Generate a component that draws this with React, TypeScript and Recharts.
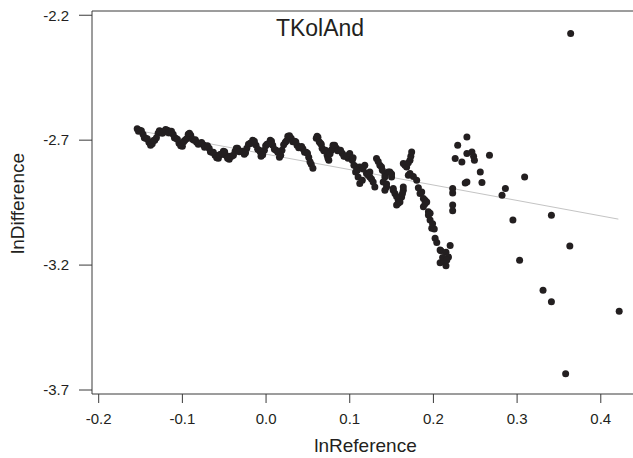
import React from "react";
import {
  ScatterChart,
  Scatter,
  XAxis,
  YAxis,
  ReferenceLine,
} from "recharts";

// dense run of points on the left (read left to right)
const chainX = [
  -0.154, -0.151, -0.147, -0.144, -0.14, -0.136, -0.133, -0.129, -0.126, -0.122,
  -0.118, -0.115, -0.111, -0.108, -0.104, -0.1, -0.097, -0.093, -0.09, -0.086,
  -0.083, -0.079, -0.075, -0.072, -0.068, -0.065, -0.061, -0.057, -0.054, -0.051,
  -0.048, -0.044, -0.041, -0.037, -0.034, -0.03, -0.026, -0.023, -0.019, -0.016,
  -0.012, -0.008, -0.006, -0.002, 0.001, 0.005, 0.008, 0.012, 0.016, 0.019,
  0.023, 0.026, 0.03, 0.034, 0.037, 0.041, 0.044, 0.048, 0.051, 0.054,
  0.056, 0.06, 0.062, 0.065, 0.067, 0.071, 0.073, 0.075, 0.078, 0.08,
  0.084, 0.087, 0.091, 0.095, 0.098,
];
const chainY = [
  -2.654, -2.66, -2.676, -2.692, -2.708, -2.714, -2.7, -2.672, -2.664, -2.666,
  -2.66, -2.664, -2.676, -2.692, -2.712, -2.724, -2.7, -2.676, -2.68, -2.7,
  -2.708, -2.712, -2.718, -2.724, -2.732, -2.748, -2.76, -2.772, -2.756, -2.744,
  -2.76, -2.776, -2.764, -2.744, -2.732, -2.744, -2.756, -2.732, -2.712, -2.7,
  -2.72, -2.74, -2.764, -2.74, -2.716, -2.7, -2.72, -2.74, -2.768, -2.74,
  -2.708, -2.684, -2.692, -2.704, -2.72, -2.728, -2.734, -2.748, -2.768, -2.796,
  -2.812, -2.692, -2.688, -2.712, -2.732, -2.74, -2.76, -2.78, -2.74, -2.72,
  -2.732, -2.74, -2.752, -2.764, -2.772,
];

// points packed in between the run above (it reads as one thick band)
const chain2X = [
  -0.1525, -0.149, -0.1455, -0.142, -0.138, -0.1345, -0.131, -0.1275, -0.124, -0.12,
  -0.1165, -0.113, -0.1095, -0.106, -0.102, -0.0985, -0.095, -0.0915, -0.088, -0.0845,
  -0.081, -0.077, -0.0735, -0.07, -0.0665, -0.063, -0.059, -0.0555, -0.0525, -0.0495,
  -0.046, -0.0425, -0.039, -0.0355, -0.032, -0.028, -0.0245, -0.021, -0.0175, -0.014,
  -0.01, -0.007, -0.004, -0.0005, 0.003, 0.0065, 0.01, 0.014, 0.0175, 0.021,
  0.0245, 0.028, 0.032, 0.0355, 0.039, 0.0425, 0.046, 0.0495, 0.0525, 0.061,
  0.0635, 0.066, 0.069, 0.072, 0.074, 0.0765, 0.079, 0.082, 0.0855, 0.089,
  0.093, 0.0965,
];
const chain2Y = [
  -2.664, -2.662, -2.69, -2.694, -2.72, -2.701, -2.69, -2.662, -2.672, -2.657,
  -2.67, -2.664, -2.69, -2.696, -2.722, -2.706, -2.694, -2.672, -2.696, -2.698,
  -2.716, -2.709, -2.728, -2.722, -2.746, -2.748, -2.77, -2.758, -2.756, -2.746,
  -2.772, -2.764, -2.76, -2.732, -2.746, -2.744, -2.75, -2.716, -2.712, -2.704,
  -2.736, -2.746, -2.758, -2.722, -2.714, -2.704, -2.736, -2.748, -2.76, -2.718,
  -2.702, -2.682, -2.706, -2.706, -2.73, -2.725, -2.748, -2.752, -2.786, -2.684,
  -2.706, -2.716, -2.742, -2.744, -2.772, -2.754, -2.736, -2.72, -2.742, -2.74,
  -2.764, -2.762,
];

// middle part, spreading out and dropping
const midX = [
  0.1, 0.103, 0.105, 0.108, 0.107, 0.11, 0.112, 0.112, 0.118, 0.12,
  0.124, 0.124, 0.128, 0.13, 0.132, 0.136, 0.138, 0.142, 0.142, 0.14,
  0.144, 0.142, 0.146, 0.148, 0.15, 0.152, 0.152, 0.154, 0.158, 0.156,
  0.158, 0.162, 0.164, 0.164, 0.164, 0.168, 0.172, 0.173, 0.174, 0.172,
  0.17, 0.18, 0.184, 0.186, 0.188, 0.19, 0.192, 0.188, 0.194, 0.196,
  0.194, 0.196, 0.198, 0.201, 0.202, 0.208, 0.209, 0.22, 0.215, 0.218,
  0.208, 0.212, 0.215,
];
const midY = [
  -2.753, -2.78, -2.8, -2.807, -2.827, -2.847, -2.873, -2.807, -2.8, -2.833,
  -2.827, -2.847, -2.867, -2.887, -2.773, -2.8, -2.807, -2.833, -2.847, -2.867,
  -2.887, -2.9, -2.827, -2.827, -2.847, -2.893, -2.9, -2.913, -2.94, -2.96,
  -2.953, -2.927, -2.9, -2.887, -2.793, -2.807, -2.78, -2.764, -2.747, -2.833,
  -2.84, -2.86, -2.913, -2.907, -2.933, -2.94, -2.947, -2.967, -2.987, -2.993,
  -3.0, -3.02, -3.053, -3.056, -3.093, -3.14, -3.143, -3.122, -3.149, -3.168,
  -3.191, -3.187, -3.203,
];

const mid2X = [
  0.104, 0.109, 0.115, 0.116, 0.122, 0.126, 0.134, 0.139, 0.144, 0.15,
  0.156, 0.16, 0.163, 0.166, 0.17, 0.176, 0.182, 0.19, 0.199, 0.204,
  0.211, 0.216,
];
const mid2Y = [
  -2.77, -2.82, -2.86, -2.815, -2.84, -2.855, -2.785, -2.82, -2.875, -2.835,
  -2.925, -2.947, -2.913, -2.8, -2.79, -2.845, -2.89, -2.955, -3.035, -3.11,
  -3.17, -3.18,
];

// sparse points on the right
const sparseX = [
  0.223, 0.223, 0.223, 0.223, 0.226, 0.229, 0.234, 0.24, 0.24, 0.246,
  0.248, 0.249, 0.238, 0.24, 0.256, 0.258, 0.267, 0.286, 0.282, 0.295,
  0.309, 0.341, 0.363, 0.303, 0.331, 0.341, 0.422, 0.358, 0.364,
];
const sparseY = [
  -2.893, -2.911, -2.96, -2.983, -2.773, -2.72, -2.787, -2.687, -2.753, -2.747,
  -2.764, -2.78, -2.871, -2.867, -2.827, -2.869, -2.76, -2.893, -2.92, -3.02,
  -2.847, -3.001, -3.124, -3.181, -3.301, -3.347, -3.385, -3.635, -2.273,
];

// fitted line end points
const fitX = [-0.154, 0.421];
const fitY = [-2.661, -3.016];

const xTicks = [-0.2, -0.1, 0.0, 0.1, 0.2, 0.3, 0.4];
const yTicks = [-3.7, -3.2, -2.7, -2.2];

const X_MIN = -0.208;
const X_MAX = 0.4385;
const Y_MIN = -3.716;
const Y_MAX = -2.183;

const toPoints = (xs: number[], ys: number[]) =>
  xs.map((x, i) => ({ x, y: ys[i] }));

const points = [
  ...toPoints(chainX, chainY),
  ...toPoints(chain2X, chain2Y),
  ...toPoints(midX, midY),
  ...toPoints(mid2X, mid2Y),
  ...toPoints(sparseX, sparseY),
];

const FONT = "'Liberation Sans', Arial, sans-serif";
const INK = "#231f20";
const AXIS = "#3a3a3a";

const Dot = (props: any) => (
  <circle cx={props.cx} cy={props.cy} r={3.5} fill={INK} />
);

export default function App() {
  return (
    <div style={{ position: "absolute", left: 0, top: 0, background: "#fff" }}>
      <ScatterChart
        width={633}
        height={458}
        margin={{ top: 11, right: 0, bottom: 0, left: 0 }}
        style={{ fontFamily: FONT }}
      >
        <XAxis
          type="number"
          dataKey="x"
          domain={[X_MIN, X_MAX]}
          allowDataOverflow
          ticks={xTicks}
          tickFormatter={(v: number) => v.toFixed(1)}
          height={64}
          tickSize={9}
          tickMargin={10}
          stroke={AXIS}
          tick={{ fill: INK, fontSize: 15, fontFamily: FONT }}
          label={{
            content: ({ viewBox }: any) => (
              <text
                x={viewBox.x + viewBox.width / 2 + 3}
                y={viewBox.y + 58}
                textAnchor="middle"
                fontSize={19}
                fontFamily={FONT}
                fill={INK}
              >
                lnReference
              </text>
            ),
          }}
        />
        <YAxis
          type="number"
          dataKey="y"
          domain={[Y_MIN, Y_MAX]}
          allowDataOverflow
          ticks={yTicks}
          tickFormatter={(v: number) => v.toFixed(1)}
          width={92}
          tickSize={13}
          tickMargin={10}
          stroke={AXIS}
          tick={{ fill: INK, fontSize: 15, fontFamily: FONT }}
          label={{
            content: ({ viewBox }: any) => {
              const cx = viewBox.x + 24;
              const cy = viewBox.y + viewBox.height / 2 + 1;
              return (
                <text
                  x={cx}
                  y={cy}
                  transform={`rotate(-90 ${cx} ${cy})`}
                  textAnchor="middle"
                  fontSize={19}
                  fontFamily={FONT}
                  fill={INK}
                >
                  lnDifference
                </text>
              );
            },
          }}
        />
        <ReferenceLine y={Y_MAX} stroke={AXIS} strokeWidth={1} />
        <ReferenceLine
          segment={[
            { x: fitX[0], y: fitY[0] },
            { x: fitX[1], y: fitY[1] },
          ]}
          stroke="#c4c4c4"
          strokeWidth={1}
        />
        <Scatter data={points} shape={Dot} isAnimationActive={false} />
        <text
          x={320}
          y={36}
          textAnchor="middle"
          fontSize={23}
          fontFamily={FONT}
          fill={INK}
        >
          TKolAnd
        </text>
      </ScatterChart>
    </div>
  );
}
